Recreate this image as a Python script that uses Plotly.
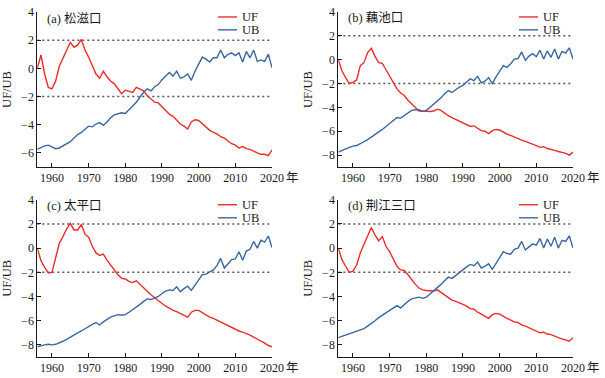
import plotly.graph_objects as go

years = list(range(1956, 2021))

panel_titles = ["(a) 松滋口", "(b) 藕池口", "(c) 太平口", "(d) 荆江三口"]
series_names = ["UF", "UB"]
x_ticks = [1960, 1970, 1980, 1990, 2000, 2010, 2020]
y_ticks_a = [-6, -4, -2, 0, 2, 4]
y_ticks_bcd = [-8, -6, -4, -2, 0, 2, 4]
critical_values = [2, -2]

uf_a = [0, 0.95, -0.4, -1.35, -1.45, -0.9, 0.15, 0.75, 1.35, 1.85,
        1.5, 1.65, 2.05, 1.3, 0.8, 0.2, -0.4, -0.7, -0.2, -0.6,
        -0.9, -1.1, -1.45, -1.8, -1.55, -1.65, -1.7, -1.35, -1.45, -1.6,
        -1.95, -2.2, -2.4, -2.45, -2.7, -3.0, -3.25, -3.4, -3.7, -3.95,
        -4.1, -4.3, -3.8, -3.65, -3.7, -3.95, -4.2, -4.4, -4.55, -4.65,
        -4.85, -4.95, -5.15, -5.35, -5.45, -5.65, -5.55, -5.7, -5.75, -5.9,
        -6.0, -6.1, -6.1, -6.2, -5.8]
ub_a = [-5.75, -5.6, -5.5, -5.45, -5.6, -5.7, -5.65, -5.5, -5.35, -5.2,
        -4.95, -4.7, -4.55, -4.35, -4.1, -4.15, -3.95, -3.85, -4.05, -3.8,
        -3.5, -3.3, -3.25, -3.15, -3.2, -2.95, -2.7, -2.4, -2.05, -1.7,
        -1.45, -1.6, -1.3, -1.15, -0.8, -0.55, -0.3, -0.55, -0.2, -0.7,
        -0.6, -0.4, -0.85, -0.2, 0.3, 0.8, 0.65, 0.45, 0.75, 0.75,
        1.3, 0.75, 1.0, 1.1, 0.9, 1.1, 0.45, 1.2, 0.75, 1.3,
        0.5, 0.6, 0.5, 1.0, 0.05]

uf_b = [0, -0.95, -1.5, -2.0, -1.9, -1.7, -0.5, -0.25, 0.6, 0.95,
        0.3, -0.25, -0.3, -0.85, -1.4, -1.95, -2.45, -2.8, -3.0, -3.4,
        -3.7, -4.0, -4.3, -4.3, -4.35, -4.35, -4.3, -4.15, -4.25, -4.5,
        -4.7, -4.85, -5.0, -5.1, -5.25, -5.4, -5.6, -5.55, -5.75, -5.95,
        -6.0, -6.2, -5.95, -5.85, -5.9, -6.1, -6.25, -6.35, -6.5, -6.6,
        -6.75, -6.85, -6.95, -7.1, -7.2, -7.35, -7.3, -7.45, -7.5, -7.6,
        -7.7, -7.75, -7.85, -8.0, -7.75]
ub_b = [-7.75, -7.6, -7.45, -7.35, -7.25, -7.2, -7.05, -6.9, -6.7, -6.5,
        -6.3, -6.05, -5.85, -5.6, -5.35, -5.1, -4.85, -4.9, -4.7, -4.5,
        -4.25, -4.2, -4.2, -4.35, -4.25, -4.0, -3.75, -3.5, -3.2, -2.85,
        -2.6, -2.75, -2.5, -2.3, -2.15, -1.9, -1.6, -1.75, -1.4, -1.95,
        -1.8, -1.5, -2.0, -1.45, -1.0, -0.5, -0.65, -0.35, 0.05, 0.1,
        0.65, -0.05, 0.3, 0.5, 0.25, 0.8, 0.05, 0.75, 0.2, 0.9,
        0.05, 0.7, 0.55, 1.0, 0.05]

uf_c = [0, -1.05, -1.6, -2.05, -2.0, -0.7, 0.4, 0.95, 1.6, 2.05,
        1.5, 1.5, 1.95, 1.15, 0.9, 0.15, -0.4, -0.6, -0.5, -1.0,
        -1.4, -1.8, -2.2, -2.5, -2.55, -2.75, -2.85, -2.7, -3.0, -3.3,
        -3.55, -3.85, -4.1, -4.35, -4.6, -4.8, -4.95, -5.15, -5.25, -5.4,
        -5.55, -5.7, -5.3, -5.15, -5.15, -5.35, -5.55, -5.7, -5.8, -5.95,
        -6.1, -6.3, -6.45, -6.6, -6.75, -6.85, -6.95, -7.05, -7.2, -7.35,
        -7.5, -7.65, -7.85, -8.05, -8.15]
ub_c = [-8.15, -8.05, -8.0, -7.95, -8.0, -7.95, -7.85, -7.7, -7.55, -7.35,
        -7.2, -7.0, -6.85, -6.65, -6.5, -6.3, -6.15, -6.35, -6.1, -5.9,
        -5.7, -5.6, -5.5, -5.55, -5.5, -5.3, -5.1, -4.9, -4.65, -4.4,
        -4.2, -4.25, -4.1, -4.0, -3.75, -3.55, -3.45, -3.5, -3.2, -3.6,
        -3.35, -3.15, -3.5, -3.05, -2.6, -2.2, -2.15, -2.0, -1.8, -1.45,
        -0.85, -1.65, -1.3, -0.95, -0.9, -0.3, -1.0, -0.25, -0.1, 0.55,
        0.0, 0.65, 0.5, 1.0, 0.05]

uf_d = [0, -0.95, -1.5, -2.0, -1.9, -1.4, -0.4, 0.3, 1.1, 1.7,
        1.1, 0.6, 0.95, 0.15, -0.3, -0.9, -1.5, -1.8, -1.85, -2.2,
        -2.65, -3.0, -3.3, -3.45, -3.5, -3.55, -3.55, -3.45, -3.65, -3.85,
        -4.05, -4.3, -4.4, -4.5, -4.65, -4.8, -5.0, -5.05, -5.3, -5.45,
        -5.6, -5.8, -5.5, -5.4, -5.45, -5.65, -5.8, -5.95, -6.1, -6.15,
        -6.35, -6.45, -6.6, -6.75, -6.85, -7.0, -6.95, -7.1, -7.15, -7.3,
        -7.4, -7.5, -7.6, -7.7, -7.4]
ub_d = [-7.4, -7.3, -7.15, -7.05, -6.95, -6.9, -6.8, -6.65, -6.45, -6.25,
        -6.0, -5.75, -5.55, -5.3, -5.1, -4.9, -4.75, -4.95, -4.65, -4.4,
        -4.2, -4.15, -4.05, -4.15, -4.05, -3.8, -3.55, -3.3, -3.0, -2.7,
        -2.4, -2.5, -2.25, -2.05, -1.8, -1.55, -1.35, -1.45, -1.15, -1.65,
        -1.5, -1.3, -1.75, -1.3, -0.8, -0.3, -0.45, -0.5, -0.1, 0.0,
        0.55, -0.15, 0.1, 0.35, 0.25, 0.8, 0.0, 0.75, 0.15, 0.9,
        0.0, 0.65, 0.55, 1.0, 0.0]

uf_all = [uf_a, uf_b, uf_c, uf_d]
ub_all = [ub_a, ub_b, ub_c, ub_d]

W, H = 605, 378
RED = "#ee2a2a"
BLUE = "#3a67a0"
SERIF = "'Liberation Serif', 'Noto Sans CJK SC', serif"
INK = "#1a1a1a"

# panel boxes in pixels: (left, right, top, bottom)
boxes = [(37.3, 272.0, 12.0, 167.0), (338.3, 573.0, 12.0, 167.0),
         (37.3, 272.0, 199.7, 357.0), (338.3, 573.0, 199.7, 357.0)]
yranges = [[-7, 4], [-9, 4], [-9, 4], [-9, 4]]
ytick_sets = [y_ticks_a, y_ticks_bcd, y_ticks_bcd, y_ticks_bcd]

fig = go.Figure()
layout = dict(
    width=W, height=H, margin=dict(l=0, r=0, t=0, b=0, pad=0, autoexpand=False),
    paper_bgcolor="white", plot_bgcolor="white", showlegend=False,
    font=dict(family=SERIF, size=12, color=INK),
    dragmode=False, hovermode=False,
)
annotations = []
shapes = []

for i in range(4):
    n = i + 1
    xa = "x" if n == 1 else f"x{n}"
    ya = "y" if n == 1 else f"y{n}"
    l, r, t, b = boxes[i]
    layout["xaxis" if n == 1 else f"xaxis{n}"] = dict(
        domain=[l / W, r / W], anchor=ya, range=[1956, 2020], automargin=False,
        tickvals=x_ticks, ticks="inside", ticklen=4, tickcolor=INK,
        showline=True, linecolor=INK, linewidth=1, showgrid=False,
        zeroline=False, ticklabeloverflow="allow",
        tickfont=dict(family=SERIF, size=12, color=INK),
    )
    layout["yaxis" if n == 1 else f"yaxis{n}"] = dict(
        domain=[1 - b / H, 1 - t / H], anchor=xa, range=yranges[i], automargin=False,
        tickmode="array", tickvals=ytick_sets[i],
        ticktext=[str(v).replace("-", "\u2212") for v in ytick_sets[i]],
        ticks="inside", ticklen=4, tickcolor=INK,
        showline=True, linecolor=INK, linewidth=1, showgrid=False,
        zeroline=False, ticklabeloverflow="allow",
        tickfont=dict(family=SERIF, size=12, color=INK),
        title=dict(text="UF/UB", font=dict(family=SERIF, size=12.5, color=INK), standoff=6),
    )
    for cv in critical_values:
        fig.add_trace(go.Scatter(
            x=[1956, 2020], y=[cv, cv], mode="lines", xaxis=xa, yaxis=ya,
            line=dict(color="#555555", width=1.5, dash="2px,3px"),
            hoverinfo="skip"))
    fig.add_trace(go.Scatter(x=years, y=uf_all[i], mode="lines", name="UF",
                             xaxis=xa, yaxis=ya, line=dict(color=RED, width=1.4)))
    fig.add_trace(go.Scatter(x=years, y=ub_all[i], mode="lines", name="UB",
                             xaxis=xa, yaxis=ya, line=dict(color=BLUE, width=1.4)))

    xd = f"{xa} domain"
    yd = f"{ya} domain"
    annotations.append(dict(text=panel_titles[i], xref=xd, yref=yd, x=0.033, y=0.96,
                            xanchor="left", yanchor="middle", showarrow=False,
                            font=dict(family=SERIF, size=12.5, color=INK)))
    annotations.append(dict(text="年", xref=xd, yref=yd, x=1.087, y=0, yshift=-2,
                            xanchor="center", yanchor="top", showarrow=False,
                            font=dict(family=SERIF, size=12.5, color=INK)))
    for name, col, ly in [(series_names[0], RED, 0.968), (series_names[1], BLUE, 0.885)]:
        shapes.append(dict(type="line", xref=xd, yref=yd, x0=0.770, x1=0.851,
                           y0=ly, y1=ly, line=dict(color=col, width=1.4)))
        annotations.append(dict(text=name, xref=xd, yref=yd, x=0.862, y=ly,
                                xanchor="left", yanchor="middle", showarrow=False,
                                font=dict(family=SERIF, size=12.5, color=INK)))

layout["annotations"] = annotations
layout["shapes"] = shapes
fig.update_layout(**layout)
fig.write_html("out.html", config={"displayModeBar": False, "staticPlot": True},
               post_script="document.body.style.margin='0';document.body.style.overflow='hidden';")
